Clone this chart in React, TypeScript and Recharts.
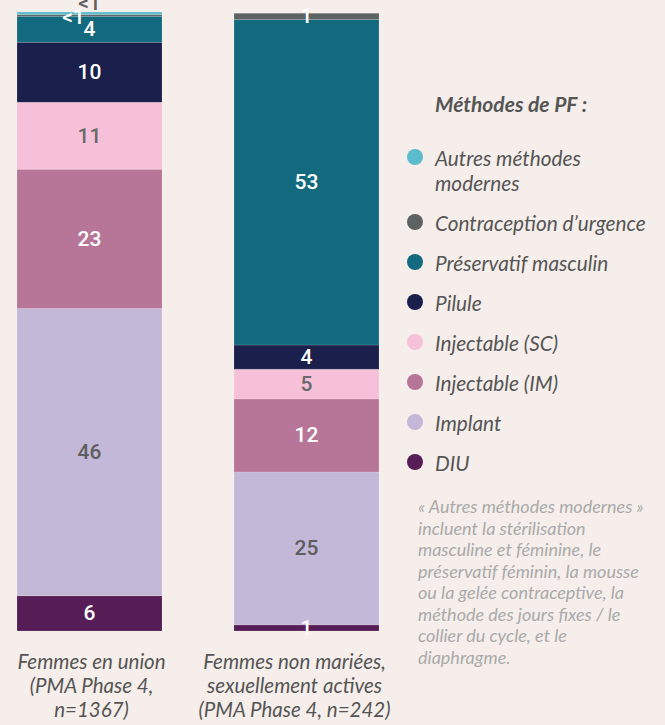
import React from 'react';
import { BarChart, Bar, XAxis, YAxis, Legend, LabelList } from 'recharts';

// Groups (x axis)
const categories = ['Femmes en union', 'Femmes non mariées'];
const categoryLines = [
  ['Femmes en union', '(PMA Phase 4,', 'n=1367)'],
  ['Femmes non mariées,', 'sexuellement actives', '(PMA Phase 4, n=242)'],
];

// Series values (%), bottom to top of the stack
const diu = [5.7, 1.0];
const implant = [46.4, 24.7];
const injectableIM = [22.5, 11.8];
const injectableSC = [10.8, 4.8];
const pilule = [9.7, 3.9];
const preservatif = [4.2, 52.6];
const urgence = [0.3, 1.0];
const autres = [0.6, 0];

const series = [
  { key: 'diu', name: 'DIU', values: diu, color: '#561d56', text: '#ffffff', dx: 0, dy: 0 },
  { key: 'implant', name: 'Implant', values: implant, color: '#c4b8d8', text: '#5e5e5e', dx: 0, dy: 0 },
  { key: 'im', name: 'Injectable (IM)', values: injectableIM, color: '#b77597', text: '#ffffff', dx: 0, dy: 0 },
  { key: 'sc', name: 'Injectable (SC)', values: injectableSC, color: '#f7c0d9', text: '#6a6a6a', dx: 0, dy: 0 },
  { key: 'pilule', name: 'Pilule', values: pilule, color: '#1a1f4b', text: '#ffffff', dx: 0, dy: 0 },
  { key: 'preservatif', name: 'Préservatif masculin', values: preservatif, color: '#136a7e', text: '#ffffff', dx: 0, dy: 1 },
  { key: 'urgence', name: 'Contraception d’urgence', values: urgence, color: '#5d6363', text: '#ffffff', dx: -16, dy: 2 },
  { key: 'autres', name: 'Autres méthodes modernes', values: autres, color: '#5bbccc', text: '#5e5e5e', dx: 0, dy: -10 },
];

const legendLines: { [k: string]: string[] } = {
  autres: ['Autres méthodes', 'modernes'],
};

const noteLines = [
  '« Autres méthodes modernes »',
  'incluent la stérilisation',
  'masculine et féminine, le',
  'préservatif féminin, la mousse',
  'ou la gelée contraceptive, la',
  'méthode des jours fixes / le',
  'collier du cycle, et le',
  'diaphragme.',
];

const data = categories.map((name, i) => {
  const row: { [k: string]: string | number } = { name };
  series.forEach(s => {
    row[s.key] = s.values[i];
  });
  return row;
});

const BG = '#f5eeea';
const FONT = 'Lato, "Open Sans", sans-serif';
const tickShift = [2, -12];

// "<1" labels are nudged apart so they do not sit on top of each other
const makeLabel = (color: string, dx: number, dy: number) => (props: any) => {
  const { x, y, width, height, value } = props;
  if (!value) return null;
  const small = value < 1;
  const txt = small ? '<1' : String(Math.round(value));
  return (
    <text
      x={x + width / 2 + (small ? dx : 0)}
      y={y + height / 2 + (small ? dy : 0)}
      fill={color}
      textAnchor="middle"
      dominantBaseline="central"
      fontFamily="Roboto, sans-serif"
      fontWeight={500}
      fontSize={21}
    >
      {txt}
    </text>
  );
};

const CategoryTick = (props: any) => {
  const { x, y, index } = props;
  const lines = categoryLines[index] || [];
  const cx = x + (tickShift[index] || 0);
  return (
    <text x={cx} y={y} textAnchor="middle" fill="#555" fontFamily={FONT} fontStyle="italic" fontSize={20.5}>
      {lines.map((l, i) => (
        <tspan key={i} x={cx} dy={i === 0 ? 30 : 24}>
          {l}
        </tspan>
      ))}
    </text>
  );
};

const LegendBox = () => {
  const items = [...series].reverse();
  return (
    <div style={{ fontFamily: FONT, fontStyle: 'italic', color: '#555' }}>
      <div style={{ fontWeight: 700, fontSize: 21, marginLeft: 28, lineHeight: '25px', marginBottom: 29 }}>
        Méthodes de PF :
      </div>
      {items.map(s => {
        const lines = legendLines[s.key] || [s.name];
        return (
          <div key={s.key} style={{ display: 'flex', alignItems: 'flex-start', marginBottom: 15 }}>
            <div
              style={{
                width: 16,
                height: 16,
                borderRadius: 8,
                background: s.color,
                marginTop: 4,
                marginRight: 12,
                flex: 'none',
              }}
            />
            <div style={{ fontSize: 20.8, lineHeight: '25px' }}>
              {lines.map((l, i) => (
                <div key={i} style={{ whiteSpace: 'nowrap' }}>{l}</div>
              ))}
            </div>
          </div>
        );
      })}
      <div style={{ marginTop: 21, marginLeft: 11, fontSize: 18, lineHeight: '21.5px', color: '#aaaaaa' }}>
        {noteLines.map((l, i) => (
          <div key={i} style={{ whiteSpace: 'nowrap' }}>{l}</div>
        ))}
      </div>
    </div>
  );
};

const App: React.FC = () => {
  return (
    <div style={{ position: 'absolute', left: 0, top: 0, width: 665, height: 725, background: BG }}>
      <BarChart
        width={665}
        height={725}
        data={data}
        margin={{ top: 12, right: 250, bottom: 0, left: -19 }}
        barSize={145}
      >
        <XAxis
          dataKey="name"
          axisLine={false}
          tickLine={false}
          interval={0}
          height={94}
          tick={<CategoryTick />}
        />
        <YAxis hide domain={[0, 100]} allowDataOverflow />
        <Legend
          layout="horizontal"
          verticalAlign="middle"
          align="center"
          wrapperStyle={{ left: 407, top: 91, width: 258, height: 'auto' }}
          content={<LegendBox />}
        />
        {series.map(s => (
          <Bar
            key={s.key}
            dataKey={s.key}
            name={s.name}
            stackId="a"
            fill={s.color}
            stroke="#ffffff"
            strokeOpacity={0.25}
            strokeWidth={0.6}
            isAnimationActive={false}
          >
            <LabelList dataKey={s.key} content={makeLabel(s.text, s.dx, s.dy)} />
          </Bar>
        ))}
      </BarChart>
    </div>
  );
};

export default App;
